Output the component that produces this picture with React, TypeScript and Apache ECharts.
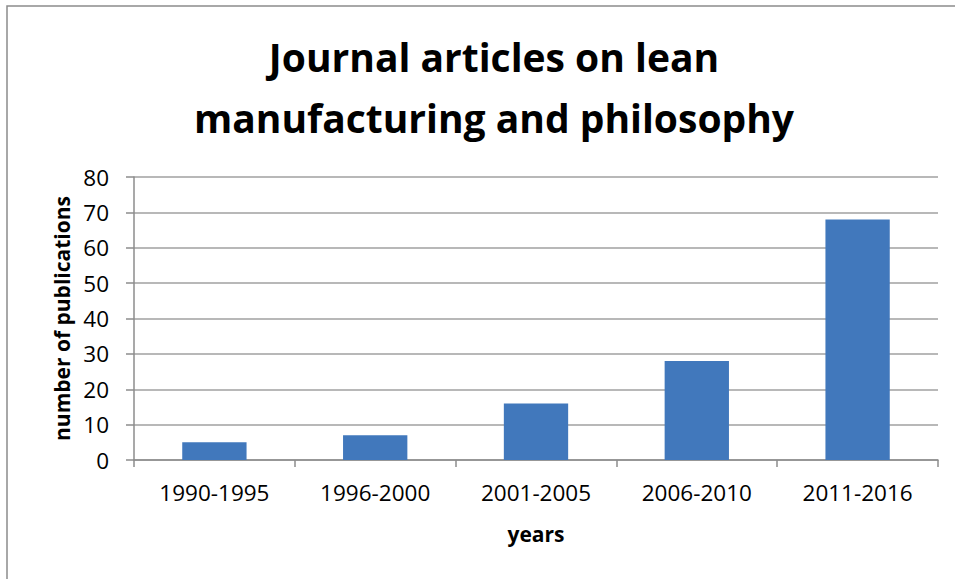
import React, { useEffect, useRef } from "react";
import * as echarts from "echarts";

const categories = ["1990-1995", "1996-2000", "2001-2005", "2006-2010", "2011-2016"];
const publications = [5, 7, 16, 28, 68];
const titleText = "Journal articles on lean\nmanufacturing and philosophy";
const FONT = "'Open Sans', 'Liberation Sans', sans-serif";

export default function App() {
  const ref = useRef<HTMLDivElement>(null);
  useEffect(() => {
    if (!ref.current) return;
    const chart = echarts.init(ref.current, undefined, { renderer: "svg" });
    chart.setOption({
      animation: false,
      backgroundColor: "#ffffff",
      graphic: [
        {
          type: "rect",
          shape: { x: 7, y: 6, width: 1000, height: 700 },
          style: { fill: "none", stroke: "#8c8c8c", lineWidth: 1.5 },
          silent: true,
        },
      ],
      title: {
        text: titleText,
        left: 489,
        textAlign: "center",
        top: 21,
        textStyle: {
          fontFamily: FONT,
          fontWeight: "bold",
          fontSize: 39,
          lineHeight: 61,
          color: "#000",
        },
      },
      grid: { left: 134, right: 17, top: 177, bottom: 119, containLabel: false },
      xAxis: {
        type: "category",
        data: categories,
        name: "years",
        nameLocation: "middle",
        nameGap: 63,
        nameTextStyle: { fontFamily: FONT, fontWeight: "bold", fontSize: 21, color: "#000" },
        axisLine: { lineStyle: { color: "#8c8c8c", width: 1.5 } },
        axisTick: { show: true, length: 7, lineStyle: { color: "#8c8c8c", width: 1.5 } },
        axisLabel: { fontFamily: FONT, fontSize: 22.5, color: "#000", margin: 21 },
      },
      yAxis: {
        type: "value",
        min: 0,
        max: 80,
        interval: 10,
        name: "number of publications",
        nameLocation: "middle",
        nameGap: 60,
        nameRotate: 90,
        nameTextStyle: { fontFamily: FONT, fontWeight: "bold", fontSize: 21, color: "#000" },
        axisLine: { show: true, lineStyle: { color: "#8c8c8c", width: 1.5 } },
        axisTick: { show: true, length: 8, lineStyle: { color: "#8c8c8c", width: 1.5 } },
        axisLabel: { fontFamily: FONT, fontSize: 22.5, color: "#000", margin: 25 },
        splitLine: { lineStyle: { color: "#a0a0a0", width: 1.5 } },
      },
      series: [
        {
          type: "bar",
          data: publications,
          barWidth: "40%",
          itemStyle: { color: "#4178BC" },
        },
      ],
    });
    return () => chart.dispose();
  }, []);
  return (
    <div
      ref={ref}
      style={{ position: "fixed", left: 0, top: 0, width: 955, height: 579 }}
    />
  );
}
